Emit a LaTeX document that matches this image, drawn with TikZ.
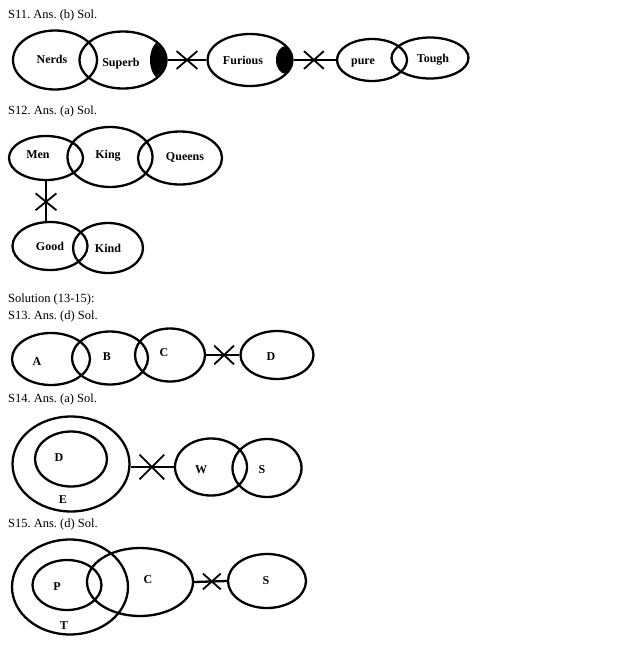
\documentclass[tikz,border=0pt]{standalone}
\usepackage{fontspec}
\setmainfont{Liberation Serif}
\usetikzlibrary{shapes.geometric, shapes.misc}
\frenchspacing
\begin{document}
\begin{tikzpicture}[x=1pt, y=-1pt, line width=2.3pt,
    every node/.style={inner sep=0pt},
    set/.style 2 args={ellipse, draw, minimum width=#1, minimum height=#2},
    tag/.style={font=\fontsize{12}{14}\selectfont\bfseries, anchor=base},
    head/.style={font=\fontsize{12.5}{14}\selectfont, anchor=base west},
    xmark/.style 2 args={cross out, draw, line width=1.8pt,
      minimum width=#1, minimum height=#2},
    blackcap/.style n args={3}{path picture={\fill
      ([xshift=#1]path picture bounding box.east)
      ellipse [x radius=#2, y radius=#3];}}
  ]
  \useasboundingbox (0,0) rectangle (621,654);

  \node[head] (h11) at (7,18) {S11. Ans. (b) Sol.};
  \node[set={84}{59}] (nerds) at (55,60) {};
  \node[set={87}{57}, blackcap={-5.5pt}{11pt}{19pt}] (superb) at (123,60) {};
  \node[set={85}{52}, blackcap={-6.5pt}{10pt}{14pt}] (furious) at (250,60) {};
  \node[set={70}{42}] (pure) at (372,60) {};
  \node[set={77}{41}] (tough) at (430,58) {};
  \node[tag] (nerdsT) at (52,63) {Nerds};
  \node[tag] (superbT) at (121,66) {Superb};
  \node[tag] (furiousT) at (243,64) {Furious};
  \node[tag] (pureT) at (363,64) {pure};
  \node[tag] (toughT) at (433,62) {Tough};
  \draw (superb.east) -- node[xmark={19pt}{16pt}, pos=.5] (x1) {} (furious.west);
  \draw (furious.east) -- node[xmark={18pt}{16pt}, pos=.48] (x2) {} (pure.west);

  \node[head] (h12) at (7,114) {S12. Ans. (a) Sol.};
  \node[set={74}{44}] (men) at (46,158) {};
  \node[set={85}{60}] (king) at (110,157) {};
  \node[set={84}{53}] (queens) at (180,158) {};
  \node[set={75}{48}] (good) at (50,246) {};
  \node[set={70}{50}] (kind) at (108,248) {};
  \node[tag] (menT) at (38,158) {Men};
  \node[tag] (kingT) at (108,158) {King};
  \node[tag] (queensT) at (185,160) {Queens};
  \node[tag] (goodT) at (50,250) {Good};
  \node[tag] (kindT) at (108,252) {Kind};
  \draw (men.south) -- node[xmark={19pt}{15pt}, pos=.52] (x3) {} (men.south |- good.north);

  \node[head] (hsol) at (7,302) {Solution (13-15):};
  \node[head] (h13) at (7,319) {S13. Ans. (d) Sol.};
  \node[set={78}{52}] (a13) at (51,359) {};
  \node[set={76}{53}] (b13) at (110,358) {};
  \node[set={70}{53}] (c13) at (170,355) {};
  \node[set={73}{48}] (d13) at (277,355) {};
  \node[tag] (a13T) at (37,365) {A};
  \node[tag] (b13T) at (107,360) {B};
  \node[tag] (c13T) at (164,356) {C};
  \node[tag] (d13T) at (271,360) {D};
  \draw (c13.east) -- node[xmark={18pt}{17pt}, pos=.54] (x4) {} (d13.west);

  \node[head] (h14) at (7,402) {S14. Ans. (a) Sol.};
  \node[set={117}{95}] (e14) at (71,464) {};
  \node[set={72}{55}] (d14) at (71,459) {};
  \node[set={72}{57}] (w14) at (211,467) {};
  \node[set={69}{58}] (s14) at (267,468) {};
  \node[tag] (d14T) at (59,461) {D};
  \node[tag] (e14T) at (63,503) {E};
  \node[tag] (w14T) at (201,473) {W};
  \node[tag] (s14T) at (262,473) {S};
  \draw (e14.east |- w14.west) -- node[xmark={23pt}{23pt}, pos=.49] (x5) {} (w14.west);

  \node[head] (h15) at (7,527) {S15. Ans. (d) Sol.};
  \node[set={116}{95}] (t15) at (70,587) {};
  \node[set={69}{50}] (p15) at (67,585) {};
  \node[set={106}{68}] (c15) at (140,582) {};
  \node[set={78}{54}] (s15) at (267,581) {};
  \node[tag] (p15T) at (57,590) {P};
  \node[tag] (t15T) at (64,629) {T};
  \node[tag] (c15T) at (148,583) {C};
  \node[tag] (s15T) at (266,584) {S};
  \draw (c15.east) -- node[xmark={16pt}{14pt}, pos=.54] (x6) {} (s15.west);
\end{tikzpicture}
\end{document}
